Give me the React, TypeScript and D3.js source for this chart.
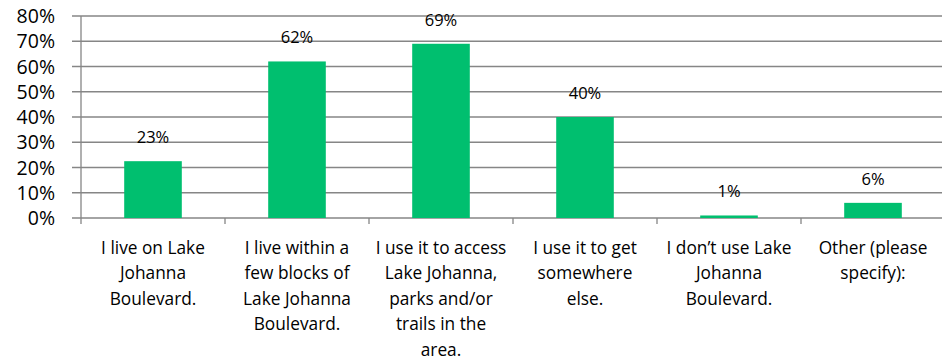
import React from "react";
import * as d3 from "d3";

const categories = [
  "I live on Lake Johanna Boulevard.",
  "I live within a few blocks of Lake Johanna Boulevard.",
  "I use it to access Lake Johanna, parks and/or trails in the area.",
  "I use it to get somewhere else.",
  "I don’t use Lake Johanna Boulevard.",
  "Other (please specify):",
];
const categoryLines = [
  ["I live on Lake", "Johanna", "Boulevard."],
  ["I live within a", "few blocks of", "Lake Johanna", "Boulevard."],
  ["I use it to access", "Lake Johanna,", "parks and/or", "trails in the", "area."],
  ["I use it to get", "somewhere", "else."],
  ["I don’t use Lake", "Johanna", "Boulevard."],
  ["Other (please", "specify):"],
];
const values = [22.5, 62, 69, 40, 1, 6];
const valueLabels = ["23%", "62%", "69%", "40%", "1%", "6%"];
const yTicks = [0, 10, 20, 30, 40, 50, 60, 70, 80];

const W = 942;
const H = 360;
const left = 81;
const right = 945;
const top = 16;
const bottom = 218;
const FONT = "'Open Sans', Lato, sans-serif";

export default function App() {
  const x = d3.scaleBand<string>().domain(categories).range([left, right]).paddingInner(0).paddingOuter(0);
  const y = d3.scaleLinear().domain([0, 80]).range([bottom, top]);
  const bw = x.bandwidth() * 0.4;
  const grid = "#868686";
  return (
    <svg width={W} height={H} style={{ position: "absolute", left: 0, top: 0, background: "#fff" }} fontFamily={FONT}>
      {yTicks.map((t) => (
        <g key={t}>
          <line x1={72} x2={right} y1={y(t)} y2={y(t)} stroke={grid} strokeWidth={1.3} />
          <text x={55} y={y(t)} dy="0.36em" textAnchor="end" fontSize={19.5} fill="#000">
            {t}%
          </text>
        </g>
      ))}
      <line x1={left} x2={left} y1={top} y2={bottom + 6} stroke={grid} strokeWidth={1.3} />
      {categories.map((c, i) => (
        <line key={"t" + i} x1={x(c)! + x.bandwidth()} x2={x(c)! + x.bandwidth()} y1={bottom} y2={bottom + 6} stroke={grid} strokeWidth={1.3} />
      ))}
      {categories.map((c, i) => {
        const cx = x(c)! + x.bandwidth() / 2;
        return (
          <g key={c}>
            <rect x={cx - bw / 2} y={y(values[i])} width={bw} height={bottom - y(values[i])} fill="#00BF6F" />
            <text x={cx} y={y(values[i]) - 18} textAnchor="middle" fontSize={16.5} fill="#000">
              {valueLabels[i]}
            </text>
            <text x={cx} y={253.5} textAnchor="middle" fontSize={17.3} fill="#000">
              {categoryLines[i].map((l, j) => (
                <tspan key={j} x={cx} dy={j === 0 ? 0 : 25.6}>
                  {l}
                </tspan>
              ))}
            </text>
          </g>
        );
      })}
    </svg>
  );
}
